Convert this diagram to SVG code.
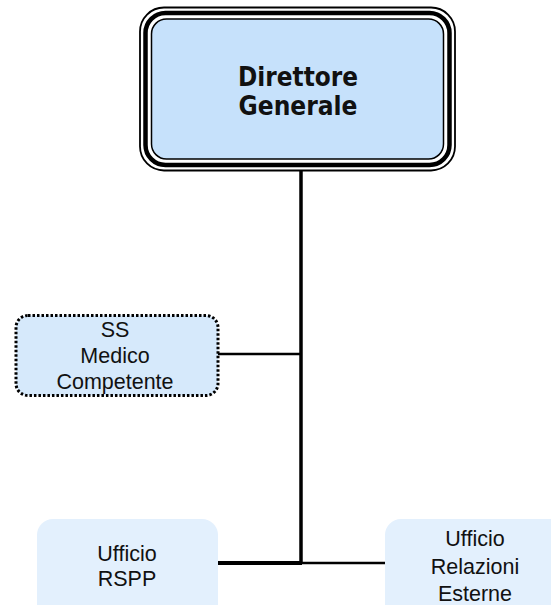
<svg xmlns="http://www.w3.org/2000/svg" width="551" height="605" viewBox="0 0 551 605">
<style>
.t{font-family:"Liberation Sans",Arial,sans-serif;font-size:21.5px;fill:#111;text-anchor:middle}
.b{font-family:"DejaVu Sans",Verdana,sans-serif;font-weight:bold;font-size:26px;fill:#111;text-anchor:middle}
.c{fill:none;stroke:#000}
</style>
<rect width="551" height="605" fill="#fff"/>
<g id="connectors">
<line class="c" x1="301" y1="170" x2="301" y2="564" stroke-width="3.5"/>
<line class="c" x1="218" y1="354" x2="301" y2="354" stroke-width="2.5"/>
<line class="c" x1="218" y1="563" x2="302" y2="563" stroke-width="4"/>
<line class="c" x1="300" y1="563" x2="385" y2="563" stroke-width="2.5"/>
</g>
<g id="direttore">
<rect x="140" y="7.5" width="315" height="163" rx="24" fill="#fff" stroke="#000" stroke-width="1.8"/>
<rect x="145.5" y="13" width="304" height="152" rx="20" fill="none" stroke="#000" stroke-width="4.5"/>
<rect x="151.5" y="19" width="292" height="140" rx="15" fill="#c6e1fb" stroke="#000" stroke-width="1.5"/>
<text class="b" x="298" y="86" textLength="120" lengthAdjust="spacingAndGlyphs">Direttore</text>
<text class="b" x="298" y="115" textLength="119" lengthAdjust="spacingAndGlyphs">Generale</text>
</g>
<g id="medico">
<rect x="16" y="315.5" width="202" height="80" rx="12" fill="#d6e9fb" stroke="#000" stroke-width="3" stroke-dasharray="2.5 2"/>
<text class="t" x="115" y="337">SS</text>
<text class="t" x="115" y="363">Medico</text>
<text class="t" x="115" y="389">Competente</text>
</g>
<g id="rspp">
<rect x="37" y="519" width="181" height="110" rx="16" fill="#e3f0fd"/>
<text class="t" x="127" y="561">Ufficio</text>
<text class="t" x="127" y="586">RSPP</text>
</g>
<g id="relazioni">
<rect x="385" y="519" width="190" height="110" rx="16" fill="#e3f0fd"/>
<text class="t" x="475" y="546">Ufficio</text>
<text class="t" x="475" y="574">Relazioni</text>
<text class="t" x="475" y="601">Esterne</text>
</g>
</svg>
